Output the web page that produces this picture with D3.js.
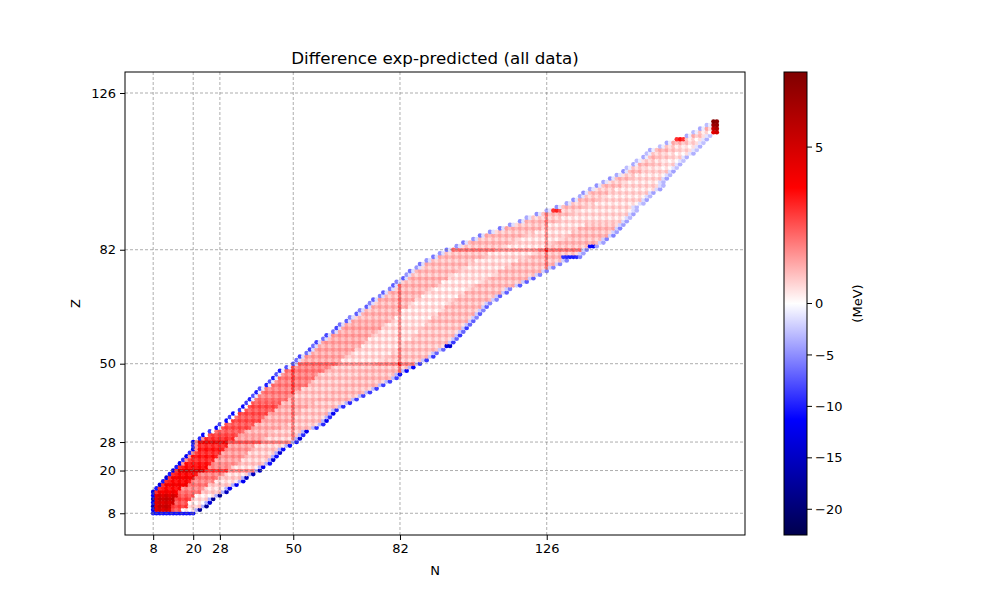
<!DOCTYPE html>
<html>
<head>
<meta charset="utf-8">
<script src="https://cdn.jsdelivr.net/npm/d3@7"></script>
<style>
  body { margin: 0; background: #fff; }
  text { font-family: "DejaVu Sans", sans-serif; fill: #000; }
</style>
</head>
<body>
<svg id="chart" width="1000" height="600"></svg>
<script>
// lightest row measured is Z = 8, one entry per Z up to 118
const zFirst = 8;
const nMin = [
  8, 8, 8, 8, 8, 8, 8,
  9, 10, 11, 12, 13, 14, 15, 16, 17, 18, 19,
  20, 20, 20,
  22, 23, 25, 27, 28, 30, 31, 32, 34, 35, 36, 37,
  38, 39, 40, 42, 43, 44, 45, 46, 48, 50,
  51, 52, 54, 55, 56, 57, 59, 60, 62, 63,
  64, 66, 67, 69, 70, 72, 73, 74, 76, 77,
  79, 80, 81, 83, 84, 85, 87, 88, 90, 92,
  94, 96, 99, 101, 104, 106, 109, 112, 115, 118,
  120, 123, 126, 129, 132, 134, 136, 137, 139, 141,
  143, 145, 147, 149, 150, 152, 153, 155, 156, 157,
  160, 162, 165, 168, 170, 172, 174, 176
];
const nMax = [
  20, 22, 24, 25, 26, 28, 30,
  31, 33, 35, 36, 38, 40, 41, 43, 44, 45, 46,
  47, 49, 51,
  52, 53, 54, 57, 59, 60, 61, 62, 63, 65, 67, 69,
  71, 73, 75, 77, 79, 81, 82, 84, 86, 88,
  90, 92, 93, 95, 97, 98, 99, 100, 101, 102,
  103, 104, 105, 106, 107, 108, 109, 111, 112, 114,
  115, 118, 120, 122, 124, 126, 128, 130, 132, 136,
  137, 138, 141, 143, 144, 146, 147, 148, 149, 150,
  151, 152, 153, 153, 155, 156, 157, 158, 160, 161,
  161, 162, 163, 164, 165, 166, 167, 168, 170, 171,
  172, 173, 174, 175, 177, 177, 177, 177
];

// difference (MeV) read per Z band, across the row from proton-rich to neutron-rich side
const bandFirstZ      = [8, 14, 22, 30, 40, 50, 62, 75, 90, 105];
const rimUpper        = [-14, -12, -11, -10, -9, -7.5, -6.5, -5.5, -4.5, -3.5];
const rimUpperInner   = [4.5, 3.0, 1.5, 0, -0.8, -1.5, -1.5, -1.4, -1.2, -0.8];
const coreProtonSide  = [5.0, 3.8, 3.2, 2.5, 1.9, 1.3, 1.1, 1.0, 0.9, 0.9];
const coreMiddle      = [2.6, 1.9, 1.5, 1.2, 0.9, 0.6, 0.5, 0.6, 0.6, 0.7];
const coreNeutronSide = [0.5, 0.7, 0.8, 0.9, 1.0, 0.9, 1.0, 1.0, 0.6, 0.5];
const rimLowerInner   = [-3.5, -3.5, -3.5, -3.2, -3, -2.5, -2.2, -2, -1.6, -1.2];
const rimLower        = [-16, -14, -12.5, -11, -10, -8, -6.5, -5, -3.8, -3.2];
const bottomRowValue = -10.5;

// odd-even staggering: [even-even, even-odd, odd-even, odd-odd]
const parityShift = [0.4, 0, 0, -0.5];

// shell closures
const magicN = [50, 82, 126];
const magicZ = [20, 28, 50, 82];
const magicBonus = 0.9;
const crossBonus = 1.6;

// single nuclides that stand out: [N, Z, MeV]
const hotSpots = [
  [128, 93, 3.0], [129, 93, 3.3], [130, 93, 2.6],
  [165, 113, 3.0], [166, 113, 3.5], [167, 113, 3.0],
  [176, 115, 4.5], [177, 115, 5.0], [176, 116, 5.5], [177, 116, 6.0],
  [176, 117, 6.5], [177, 117, 6.8], [176, 118, 7.3], [177, 118, 7.0]
];
const coldSpots = [
  [96, 55, -13], [97, 55, -14],
  [131, 80, -9], [132, 80, -9.5], [133, 80, -10], [134, 80, -10], [135, 80, -9.5],
  [139, 83, -11], [140, 83, -11.5]
];

const xTicks = [8, 20, 28, 50, 82, 126];
const yTicks = [8, 20, 28, 50, 82, 126];
const cbarTicks = [5, 0, -5, -10, -15, -20];
const vMin = -22.5, vMax = 7.4;

// ---- build the nuclide list ----
function bandOf(z) {
  let b = 0;
  bandFirstZ.forEach((s, i) => { if (z >= s) b = i; });
  return b;
}

const spotMap = new Map();
hotSpots.concat(coldSpots).forEach(d => spotMap.set(d[0] + "," + d[1], d[2]));

const nuclides = [];
nMin.forEach((lo, k) => {
  const z = zFirst + k;
  const hi = nMax[k];
  const b = bandOf(z);
  const w = hi - lo;
  for (let n = lo; n <= hi; n++) {
    const i = n - lo;
    let v;
    if (z === zFirst) {
      v = bottomRowValue;
    } else if (i === 0) {
      v = rimUpper[b] * (z % 2 === 0 ? 1.1 : 0.85);
    } else if (i === w) {
      v = rimLower[b] * (n % 2 === 0 ? 1.1 : 0.85);
    } else if (i === 1) {
      v = rimUpperInner[b];
    } else if (i === w - 1) {
      v = rimLowerInner[b];
    } else {
      const f = (i - 2) / Math.max(1, w - 4);
      v = f < 0.33 ? coreProtonSide[b] : f < 0.67 ? coreMiddle[b] : coreNeutronSide[b];
      v += parityShift[(z % 2) * 2 + (n % 2)];
      const onN = magicN.includes(n), onZ = magicZ.includes(z);
      if (onN || onZ) v += magicBonus;
      if (onN && onZ) v += crossBonus;
    }
    const key = n + "," + z;
    if (spotMap.has(key)) v = spotMap.get(key);
    nuclides.push({ n: n, z: z, v: v });
  }
});
// extra cells at the top right that sit beyond the row limits
hotSpots.forEach(d => {
  if (!nuclides.some(p => p.n === d[0] && p.z === d[1])) nuclides.push({ n: d[0], z: d[1], v: d[2] });
});

// ---- colour: matplotlib "seismic" with a two-slope norm centred on 0 ----
const seismic = d3.scaleLinear()
  .domain([0, 0.25, 0.5, 0.75, 1])
  .range(["rgb(0,0,77)", "rgb(0,0,255)", "rgb(255,255,255)", "rgb(255,0,0)", "rgb(128,0,0)"])
  .clamp(true);
const norm = v => v < 0 ? 0.5 * (v - vMin) / (0 - vMin) : 0.5 + 0.5 * v / vMax;

// ---- layout ----
const svg = d3.select("#chart");
const pL = 125, pR = 745, pT = 72, pB = 535;

const x = d3.scaleLinear().domain([-0.45, 185.45]).range([pL, pR]);
const y = d3.scaleLinear().domain([1.9, 131.9]).range([pB, pT]);

svg.append("g").selectAll("circle")
  .data(nuclides)
  .join("circle")
  .attr("cx", d => x(d.n))
  .attr("cy", d => y(d.z))
  .attr("r", 2.3)
  .attr("fill", d => seismic(norm(d.v)));

// grid (drawn above the markers, as in the original)
const grid = svg.append("g")
  .attr("stroke", "#777")
  .attr("stroke-width", 0.6)
  .attr("stroke-dasharray", "3,2");
grid.selectAll(".gx").data(xTicks).join("line")
  .attr("x1", d => x(d)).attr("x2", d => x(d))
  .attr("y1", pT).attr("y2", pB);
grid.selectAll(".gy").data(yTicks).join("line")
  .attr("y1", d => y(d)).attr("y2", d => y(d))
  .attr("x1", pL).attr("x2", pR);

const xAxis = svg.append("g")
  .attr("transform", `translate(0,${pB})`)
  .call(d3.axisBottom(x).tickValues(xTicks).tickSize(5).tickPadding(4));
const yAxis = svg.append("g")
  .attr("transform", `translate(${pL},0)`)
  .call(d3.axisLeft(y).tickValues(yTicks).tickSize(5).tickPadding(4));
[xAxis, yAxis].forEach(a => {
  a.select(".domain").remove();
  a.selectAll("text").attr("font-size", 13).attr("font-family", "DejaVu Sans, sans-serif").attr("fill", "#000");
  a.selectAll("line").attr("stroke", "#000").attr("stroke-width", 1);
});

svg.append("rect")
  .attr("x", pL).attr("y", pT)
  .attr("width", pR - pL).attr("height", pB - pT)
  .attr("fill", "none").attr("stroke", "#000").attr("stroke-width", 1);

svg.append("text")
  .attr("x", (pL + pR) / 2).attr("y", 64)
  .attr("text-anchor", "middle").attr("font-size", 16.7)
  .text("Difference exp-predicted (all data)");
svg.append("text")
  .attr("x", (pL + pR) / 2).attr("y", 575)
  .attr("text-anchor", "middle").attr("font-size", 13)
  .text("N");
svg.append("text")
  .attr("transform", `translate(80,${(pT + pB) / 2}) rotate(-90)`)
  .attr("text-anchor", "middle").attr("font-size", 13)
  .text("Z");

// ---- colour bar ----
const cbX = 784, cbW = 23;
const grad = svg.append("defs").append("linearGradient")
  .attr("id", "cbgrad").attr("x1", 0).attr("y1", 1).attr("x2", 0).attr("y2", 0);
d3.range(0, 1.0001, 0.05).forEach(t => {
  grad.append("stop").attr("offset", t).attr("stop-color", seismic(t));
});
svg.append("rect")
  .attr("x", cbX).attr("y", pT).attr("width", cbW).attr("height", pB - pT)
  .attr("fill", "url(#cbgrad)").attr("stroke", "#000").attr("stroke-width", 1);

const cbY = v => pB - norm(v) * (pB - pT);
const cbTick = svg.append("g").selectAll("g").data(cbarTicks).join("g")
  .attr("transform", d => `translate(${cbX + cbW},${cbY(d)})`);
cbTick.append("line").attr("x1", 0).attr("x2", 5).attr("stroke", "#000");
cbTick.append("text")
  .attr("x", 8).attr("dy", "0.35em").attr("font-size", 13)
  .text(d => d < 0 ? "\u2212" + Math.abs(d) : d);

svg.append("text")
  .attr("transform", `translate(862,${(pT + pB) / 2}) rotate(-90)`)
  .attr("text-anchor", "middle").attr("font-size", 13)
  .text("(MeV)");
</script>
</body>
</html>
